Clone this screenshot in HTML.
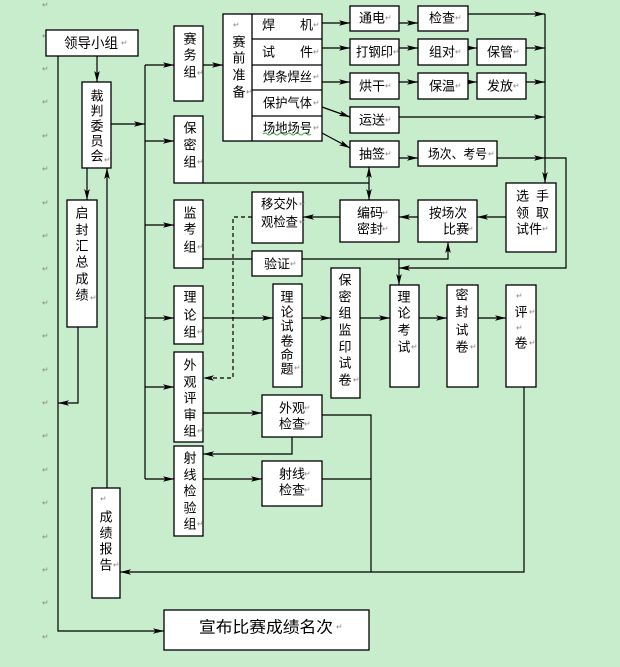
<!DOCTYPE html>
<html><head><meta charset="utf-8"><style>
html,body{margin:0;padding:0;background:#c7edcc;}
svg{display:block;}
.t{font-family:"Liberation Sans","Noto Sans CJK SC",sans-serif;font-size:13px;fill:#000;}
.v{text-anchor:middle;dominant-baseline:central;}
.h{dominant-baseline:central;}
.r{font-family:"DejaVu Sans",sans-serif;font-size:8px;fill:#8a8a8a;dominant-baseline:central;}
</style></head><body>
<svg width="620" height="667" xmlns="http://www.w3.org/2000/svg">
<rect width="620" height="667" fill="#c7edcc"/>
<defs>
<marker id="a" markerWidth="12" markerHeight="8" refX="11" refY="4" orient="auto" markerUnits="userSpaceOnUse"><path d="M0,1.2 L11,4 L0,6.8 L2.5,4 z" fill="#000"/></marker>
<marker id="s" markerWidth="12" markerHeight="8" refX="11" refY="4" orient="auto-start-reverse" markerUnits="userSpaceOnUse"><path d="M0,1.2 L11,4 L0,6.8 L2.5,4 z" fill="#000"/></marker>
</defs>

<!-- margin return marks -->
<g class="r">
<text x="42" y="5">↵</text><text x="42" y="36">↵</text><text x="42" y="69">↵</text><text x="42" y="102">↵</text>
<text x="42" y="136">↵</text><text x="42" y="169">↵</text><text x="42" y="203">↵</text><text x="42" y="236">↵</text>
<text x="42" y="269">↵</text><text x="42" y="303">↵</text><text x="42" y="336">↵</text><text x="42" y="370">↵</text>
<text x="42" y="403">↵</text><text x="42" y="436">↵</text><text x="42" y="470">↵</text><text x="42" y="503">↵</text>
<text x="42" y="537">↵</text><text x="42" y="570">↵</text><text x="42" y="603">↵</text><text x="42" y="637">↵</text>
</g>

<!-- connectors -->
<g stroke="#000" stroke-width="1.2" fill="none">
<path d="M97,56 V82" marker-end="url(#a)"/>
<path d="M58,56 V631 H164" marker-end="url(#a)"/>
<path d="M111,124 H145" marker-end="url(#a)"/>
<path d="M145,65 V479"/>
<path d="M145,65 H174" marker-end="url(#a)"/>
<path d="M145,141 H174" marker-end="url(#a)"/>
<path d="M145,225 H174" marker-end="url(#a)"/>
<path d="M145,318 H174" marker-end="url(#a)"/>
<path d="M145,387 H174" marker-end="url(#a)"/>
<path d="M145,479 H174" marker-end="url(#a)"/>
<path d="M203,65 H223" marker-end="url(#a)"/>
<path d="M322,23 H350" marker-end="url(#a)"/>
<path d="M322,48 H350" marker-end="url(#a)"/>
<path d="M322,82 H350" marker-end="url(#a)"/>
<path d="M322,107 L350,117" marker-end="url(#a)"/>
<path d="M322,133 L350,148" marker-end="url(#a)"/>
<path d="M399,23 H418" marker-end="url(#a)"/>
<path d="M468,14 H545" marker-end="url(#a)"/>
<path d="M399,48 H418" marker-end="url(#a)"/>
<path d="M468,48 H477" marker-end="url(#a)"/>
<path d="M526,48 H545" marker-end="url(#a)"/>
<path d="M399,82 H418" marker-end="url(#a)"/>
<path d="M468,82 H477" marker-end="url(#a)"/>
<path d="M526,82 H545" marker-end="url(#a)"/>
<path d="M399,117 H545" marker-end="url(#a)"/>
<path d="M399,158 H418" marker-end="url(#a)"/>
<path d="M497,158 H545" marker-end="url(#a)"/>
<path d="M545,158 H566 V268 H399" marker-end="url(#a)"/>
<path d="M545,14 V183" marker-end="url(#a)"/>
<path d="M506,217 H477" marker-end="url(#a)"/>
<path d="M418,217 H399" marker-end="url(#a)"/>
<path d="M340,217 H303" marker-end="url(#a)"/>
<path d="M369,167 V200" marker-start="url(#s)" marker-end="url(#a)"/>
<path d="M203,183 H369"/>
<path d="M203,259 H252"/>
<path d="M302,259 H448 V242" marker-end="url(#a)"/>
<path d="M399,259 V285" marker-end="url(#a)"/>
<path d="M252,217 H233 V378 H203" stroke-dasharray="4,3" marker-end="url(#a)"/>
<path d="M203,318 H273" marker-end="url(#a)"/>
<path d="M302,318 H331" marker-end="url(#a)"/>
<path d="M360,318 H390" marker-end="url(#a)"/>
<path d="M419,318 H447" marker-end="url(#a)"/>
<path d="M478,318 H506" marker-end="url(#a)"/>
<path d="M524,387 V572 H120" marker-end="url(#a)"/>
<path d="M203,413 H262" marker-end="url(#a)"/>
<path d="M322,415 H371 V572"/>
<path d="M292,437 V454 H203" marker-end="url(#a)"/>
<path d="M203,479 H262" marker-end="url(#a)"/>
<path d="M322,479 H371"/>
<path d="M107,488 V168" marker-end="url(#a)"/>
<path d="M87,168 V200" marker-end="url(#a)"/>
<path d="M78,327 V403 H58" marker-end="url(#a)"/>
</g>

<!-- boxes -->
<g fill="#fff" stroke="#000" stroke-width="1.3">
<rect x="46" y="30" width="92" height="26"/>
<rect x="82" y="82" width="29" height="86"/>
<rect x="67" y="200" width="30" height="127"/>
<rect x="92" y="488" width="28" height="110"/>
<rect x="164" y="610" width="205" height="40"/>
<rect x="174" y="26" width="29" height="75"/>
<rect x="174" y="116" width="29" height="67"/>
<rect x="174" y="200" width="29" height="68"/>
<rect x="174" y="286" width="29" height="58"/>
<rect x="174" y="352" width="29" height="90"/>
<rect x="174" y="446" width="29" height="90"/>
<rect x="223" y="14" width="99" height="127"/>
<rect x="350" y="6" width="49" height="25"/>
<rect x="350" y="39" width="49" height="26"/>
<rect x="350" y="73" width="49" height="26"/>
<rect x="350" y="107" width="49" height="26"/>
<rect x="350" y="141" width="49" height="26"/>
<rect x="418" y="6" width="50" height="25"/>
<rect x="418" y="39" width="50" height="26"/>
<rect x="477" y="39" width="49" height="26"/>
<rect x="418" y="73" width="50" height="26"/>
<rect x="477" y="73" width="49" height="26"/>
<rect x="418" y="141" width="79" height="25"/>
<rect x="506" y="183" width="50" height="69"/>
<rect x="418" y="200" width="59" height="42"/>
<rect x="340" y="200" width="59" height="42"/>
<rect x="252" y="192" width="51" height="51"/>
<rect x="252" y="251" width="50" height="25"/>
<rect x="273" y="284" width="29" height="103"/>
<rect x="331" y="268" width="29" height="130"/>
<rect x="390" y="285" width="29" height="102"/>
<rect x="447" y="285" width="31" height="102"/>
<rect x="506" y="285" width="30" height="102"/>
<rect x="262" y="395" width="60" height="42"/>
<rect x="262" y="461" width="60" height="45"/>
</g>
<g stroke="#000" stroke-width="1.3" fill="none">
<path d="M252,14 V141 M252,39 H322 M252,65 H322 M252,90 H322 M252,116 H322"/>
</g>
<path d="M263,134 q2,-2 4,0 t4,0 t4,0 t4,0 t4,0 t4,0 t4,0 t4,0 t4,0 t4,0 t4,0 t4,0" stroke="#3cb043" stroke-width="1" fill="none"/>

<!-- horizontal texts -->
<g class="t h">
<text x="64" y="43" textLength="54" lengthAdjust="spacingAndGlyphs" font-size="14">领导小组</text>
<text x="199" y="628" textLength="134" lengthAdjust="spacingAndGlyphs" font-size="16">宣布比赛成绩名次</text>
<text x="262" y="25">焊</text><text x="300" y="25">机</text>
<text x="262" y="52">试</text><text x="300" y="52">件</text>
<text x="263" y="77" textLength="49" lengthAdjust="spacingAndGlyphs">焊条焊丝</text>
<text x="263" y="103" textLength="49" lengthAdjust="spacingAndGlyphs">保护气体</text>
<text x="263" y="128" textLength="49" lengthAdjust="spacingAndGlyphs">场地场号</text>
<text x="359" y="18">通电</text>
<text x="356" y="52" textLength="37" lengthAdjust="spacingAndGlyphs">打钢印</text>
<text x="359" y="86">烘干</text>
<text x="359" y="120">运送</text>
<text x="359" y="154">抽签</text>
<text x="429" y="18">检查</text>
<text x="429" y="52">组对</text>
<text x="487" y="52">保管</text>
<text x="429" y="86">保温</text>
<text x="487" y="86">发放</text>
<text x="428" y="154" textLength="59" lengthAdjust="spacingAndGlyphs">场次、考号</text>
<text x="516" y="196">选</text><text x="536" y="196">手</text>
<text x="516" y="213">领</text><text x="536" y="213">取</text>
<text x="516" y="229">试件</text>
<text x="429" y="213" textLength="38" lengthAdjust="spacingAndGlyphs">按场次</text>
<text x="443" y="229">比赛</text>
<text x="357" y="213">编码</text>
<text x="357" y="229">密封</text>
<text x="261" y="204" textLength="37" lengthAdjust="spacingAndGlyphs">移交外</text>
<text x="261" y="222" textLength="37" lengthAdjust="spacingAndGlyphs">观检查</text>
<text x="264" y="264">验证</text>
<text x="279" y="408">外观</text>
<text x="279" y="424">检查</text>
<text x="279" y="474">射线</text>
<text x="279" y="490">检查</text>
</g>

<!-- vertical texts -->
<g class="t v">
<text x="97" y="96">裁</text><text x="97" y="111">判</text><text x="97" y="126">委</text><text x="97" y="141">员</text><text x="97" y="156">会</text>
<text x="82" y="213">启</text><text x="82" y="230">封</text><text x="82" y="246">汇</text><text x="82" y="262">总</text><text x="82" y="279">成</text><text x="82" y="295">绩</text>
<text x="106" y="517">成</text><text x="106" y="533">绩</text><text x="106" y="549">报</text><text x="106" y="565">告</text>
<text x="190" y="39">赛</text><text x="190" y="55">务</text><text x="190" y="72">组</text>
<text x="190" y="128">保</text><text x="190" y="145">密</text><text x="190" y="162">组</text>
<text x="190" y="213">监</text><text x="190" y="229">考</text><text x="190" y="247">组</text>
<text x="190" y="297">理</text><text x="190" y="315">论</text><text x="190" y="332">组</text>
<text x="190" y="365">外</text><text x="190" y="382">观</text><text x="190" y="398">评</text><text x="190" y="415">审</text><text x="190" y="431">组</text>
<text x="190" y="458">射</text><text x="190" y="475">线</text><text x="190" y="491">检</text><text x="190" y="508">验</text><text x="190" y="524">组</text>
<text x="239" y="42">赛</text><text x="239" y="58">前</text><text x="239" y="75">准</text><text x="239" y="92">备</text>
<text x="287" y="297">理</text><text x="287" y="312">论</text><text x="287" y="326">试</text><text x="287" y="341">卷</text><text x="287" y="355">命</text><text x="287" y="369">题</text>
<text x="345" y="280">保</text><text x="345" y="297">密</text><text x="345" y="313">组</text><text x="345" y="330">监</text><text x="345" y="347">印</text><text x="345" y="363">试</text><text x="345" y="380">卷</text>
<text x="404" y="297">理</text><text x="404" y="313">论</text><text x="404" y="330">考</text><text x="404" y="347">试</text>
<text x="462" y="295">密</text><text x="462" y="312">封</text><text x="462" y="330">试</text><text x="462" y="347">卷</text>
<text x="521" y="312">评</text><text x="521" y="343">卷</text>
</g>

<!-- trailing return marks in boxes -->
<g class="r">
<text x="121" y="43">↵</text>
<text x="104" y="160">↵</text>
<text x="90" y="298">↵</text>
<text x="100" y="499">↵</text><text x="113" y="565">↵</text>
<text x="336" y="627">↵</text>
<text x="197" y="73">↵</text><text x="197" y="162">↵</text><text x="197" y="247">↵</text><text x="197" y="332">↵</text><text x="197" y="431">↵</text><text x="197" y="524">↵</text>
<text x="233" y="25">↵</text><text x="246" y="92">↵</text>
<text x="313" y="25">↵</text><text x="313" y="52">↵</text><text x="313" y="77">↵</text><text x="313" y="103">↵</text><text x="313" y="128">↵</text>
<text x="385" y="18">↵</text><text x="393" y="52">↵</text><text x="385" y="86">↵</text><text x="385" y="120">↵</text><text x="385" y="154">↵</text>
<text x="455" y="18">↵</text><text x="455" y="52">↵</text><text x="513" y="52">↵</text><text x="455" y="86">↵</text><text x="513" y="86">↵</text>
<text x="488" y="154">↵</text>
<text x="542" y="229">↵</text>
<text x="467" y="229">↵</text>
<text x="382" y="213">↵</text><text x="382" y="229">↵</text>
<text x="299" y="204">↵</text><text x="299" y="222">↵</text>
<text x="290" y="264">↵</text>
<text x="294" y="368">↵</text><text x="353" y="380">↵</text><text x="411" y="347">↵</text><text x="470" y="347">↵</text>
<text x="516" y="296">↵</text><text x="529" y="312">↵</text><text x="516" y="328">↵</text><text x="529" y="343">↵</text>
<text x="304" y="408">↵</text><text x="304" y="424">↵</text><text x="304" y="474">↵</text><text x="304" y="490">↵</text>
</g>
</svg>
</body></html>
